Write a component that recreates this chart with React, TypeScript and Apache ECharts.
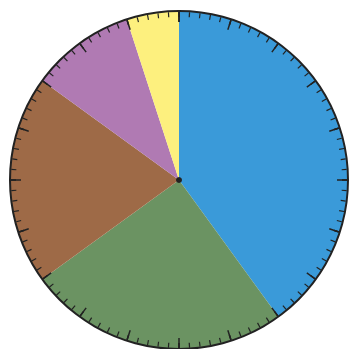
import React, { useEffect, useRef } from "react";
import * as echarts from "echarts";

const categories = ["A", "B", "C", "D", "E"];
const values = [40, 25, 20, 10, 5];
const colors = ["#3a9ad9", "#6b9362", "#9e6a47", "#b07ab3", "#fdf07e"];

export default function App() {
  const ref = useRef<HTMLDivElement>(null);
  useEffect(() => {
    const chart = echarts.init(ref.current!, undefined, { renderer: "svg" });
    const cx = 179, cy = 180, r = 169;
    chart.setOption({
      animation: false,
      series: [
        {
          type: "pie",
          z: 1,
          center: [cx, cy],
          radius: [0, r],
          startAngle: 90,
          clockwise: true,
          label: { show: false },
          labelLine: { show: false },
          silent: true,
          data: categories.map((c, i) => ({ name: c, value: values[i], itemStyle: { color: colors[i] } })),
        },
        {
          type: "gauge",
          z: 5,
          center: [cx, cy],
          radius: r + 1,
          startAngle: 90,
          endAngle: -270,
          min: 0,
          max: 100,
          splitNumber: 20,
          axisLine: { show: true, lineStyle: { width: 2, color: [[1, "#222222"]] } },
          splitLine: { show: true, distance: 0, length: 10, lineStyle: { width: 1.5, color: "#222222" } },
          axisTick: { show: true, distance: 0, splitNumber: 5, length: 5, lineStyle: { width: 1.2, color: "#222222" } },
          axisLabel: { show: false },
          pointer: { show: false },
          anchor: { show: false },
          title: { show: false },
          detail: { show: false },
          progress: { show: false },
          data: [{ value: 0 }],
        },
      ],
      graphic: [
        { type: "circle", shape: { cx, cy, r: 3 }, style: { fill: "#222222" }, z: 100 },
      ],
    });
    return () => chart.dispose();
  }, []);
  return <div ref={ref} style={{ position: "absolute", left: 0, top: 0, width: 349, height: 349 }} />;
}
